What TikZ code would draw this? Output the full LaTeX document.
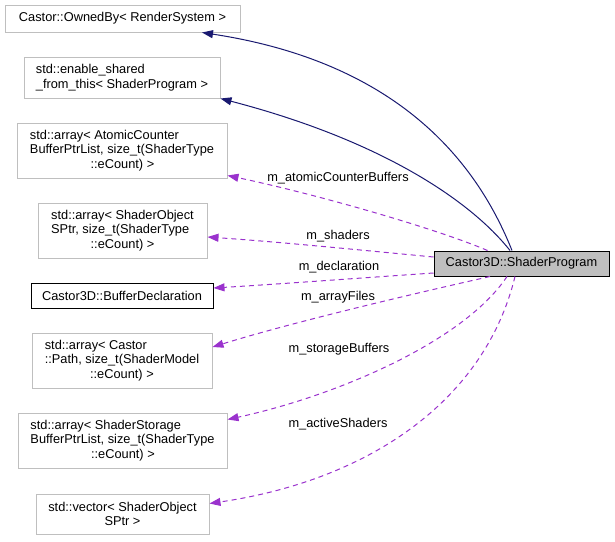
\documentclass[tikz,border=0pt]{standalone}
\usepackage{fontspec}
\setmainfont{Liberation Sans}
\usepackage{xcolor}
\usetikzlibrary{arrows.meta}

\definecolor{inhblue}{RGB}{25,25,112}
\definecolor{usepurple}{RGB}{154,50,205}
\definecolor{clsgray}{RGB}{191,191,191}

\begin{document}
\begin{tikzpicture}[x=1pt,y=-1pt,
  font=\fontsize{12.8}{14.5}\selectfont,
  cls/.style={draw=clsgray,line width=1pt,inner sep=0pt,align=left},
  inh/.style={draw=inhblue,line width=1pt,-{Triangle[length=11pt,width=8pt]}},
  uses/.style={draw=usepurple,line width=1pt,dash pattern=on 5pt off 4pt,
    -{Triangle[length=11pt,width=8pt]}},
  lbl/.style={anchor=base,inner sep=0pt}]
  \useasboundingbox (0,0) rectangle (615,541);

  % classes on the left
  \node[cls,minimum width=235,minimum height=27] (owned) at (122.5,18.5)
    {Castor::OwnedBy< RenderSystem >};
  \node[cls,minimum width=196,minimum height=41] (enable) at (122,77.5)
    {std::enable\_shared\\\_from\_this< ShaderProgram >};
  \node[cls,minimum width=210,minimum height=55] (atomic) at (122,150.5)
    {std::array< AtomicCounter\\BufferPtrList, size\_t(ShaderType\\\rule{60.6pt}{0pt}::eCount) >};
  \node[cls,minimum width=169,minimum height=55] (shobj) at (122.5,230.5)
    {std::array< ShaderObject\\SPtr, size\_t(ShaderType\\\rule{39.5pt}{0pt}::eCount) >};
  \node[cls,draw=black,minimum width=182,minimum height=25] (decl) at (122,295.5)
    {Castor3D::BufferDeclaration};
  \node[cls,minimum width=180,minimum height=55] (path) at (122,360.5)
    {std::array< Castor\\::Path, size\_t(ShaderModel\\\rule{45.3pt}{0pt}::eCount) >};
  \node[cls,minimum width=209,minimum height=55] (storage) at (122.5,440.5)
    {std::array< ShaderStorage\\BufferPtrList, size\_t(ShaderType\\\rule{60.6pt}{0pt}::eCount) >};
  \node[cls,minimum width=173,minimum height=40] (vector) at (122.5,514)
    {std::vector< ShaderObject\\\rule{56.2pt}{0pt}SPtr >};

  % the class itself
  \node[cls,draw=black,fill=clsgray,minimum width=175,minimum height=25] (prog) at (521.5,263.5)
    {Castor3D::ShaderProgram};

  % inheritance
  \draw[inh] ([xshift=-9.5pt]prog.north) .. controls (460,120) and (350,55) .. ([xshift=79.5pt]owned.south);
  \draw[inh] ([xshift=-11.5pt]prog.north) .. controls (470,200) and (380,140) .. (enable.south east);

  % members
  \draw[uses] ([xshift=-34pt]prog.north) .. controls (440,230) and (320,195) .. ([yshift=3pt]atomic.south east);
  \draw[uses] ([yshift=6.5pt]prog.west) .. controls (360,250) and (280,242) .. ([yshift=-6.5pt]shobj.east);
  \draw[uses] ([yshift=-9.5pt]prog.west) .. controls (360,278) and (280,284) .. ([yshift=7.5pt]decl.east);
  \draw[uses] ([xshift=-31.5pt]prog.south) .. controls (430,290) and (300,320) .. ([yshift=13.5pt]path.east);
  \draw[uses] ([xshift=-14.5pt]prog.south) .. controls (465,340) and (340,395) .. ([yshift=-7pt]storage.north east);
  \draw[uses] ([xshift=-6.5pt]prog.south) .. controls (485,400) and (370,480) .. ([yshift=-10pt]vector.north east);

  \node[lbl] (latomic) at (338,181) {m\_atomicCounterBuffers};
  \node[lbl] (lshaders) at (338,239) {m\_shaders};
  \node[lbl] (ldecl) at (339,270.7) {m\_declaration};
  \node[lbl] (lfiles) at (338,300.7) {m\_arrayFiles};
  \node[lbl] (lstorage) at (339,352.7) {m\_storageBuffers};
  \node[lbl] (lactive) at (338,427.3) {m\_activeShaders};
\end{tikzpicture}
\end{document}
